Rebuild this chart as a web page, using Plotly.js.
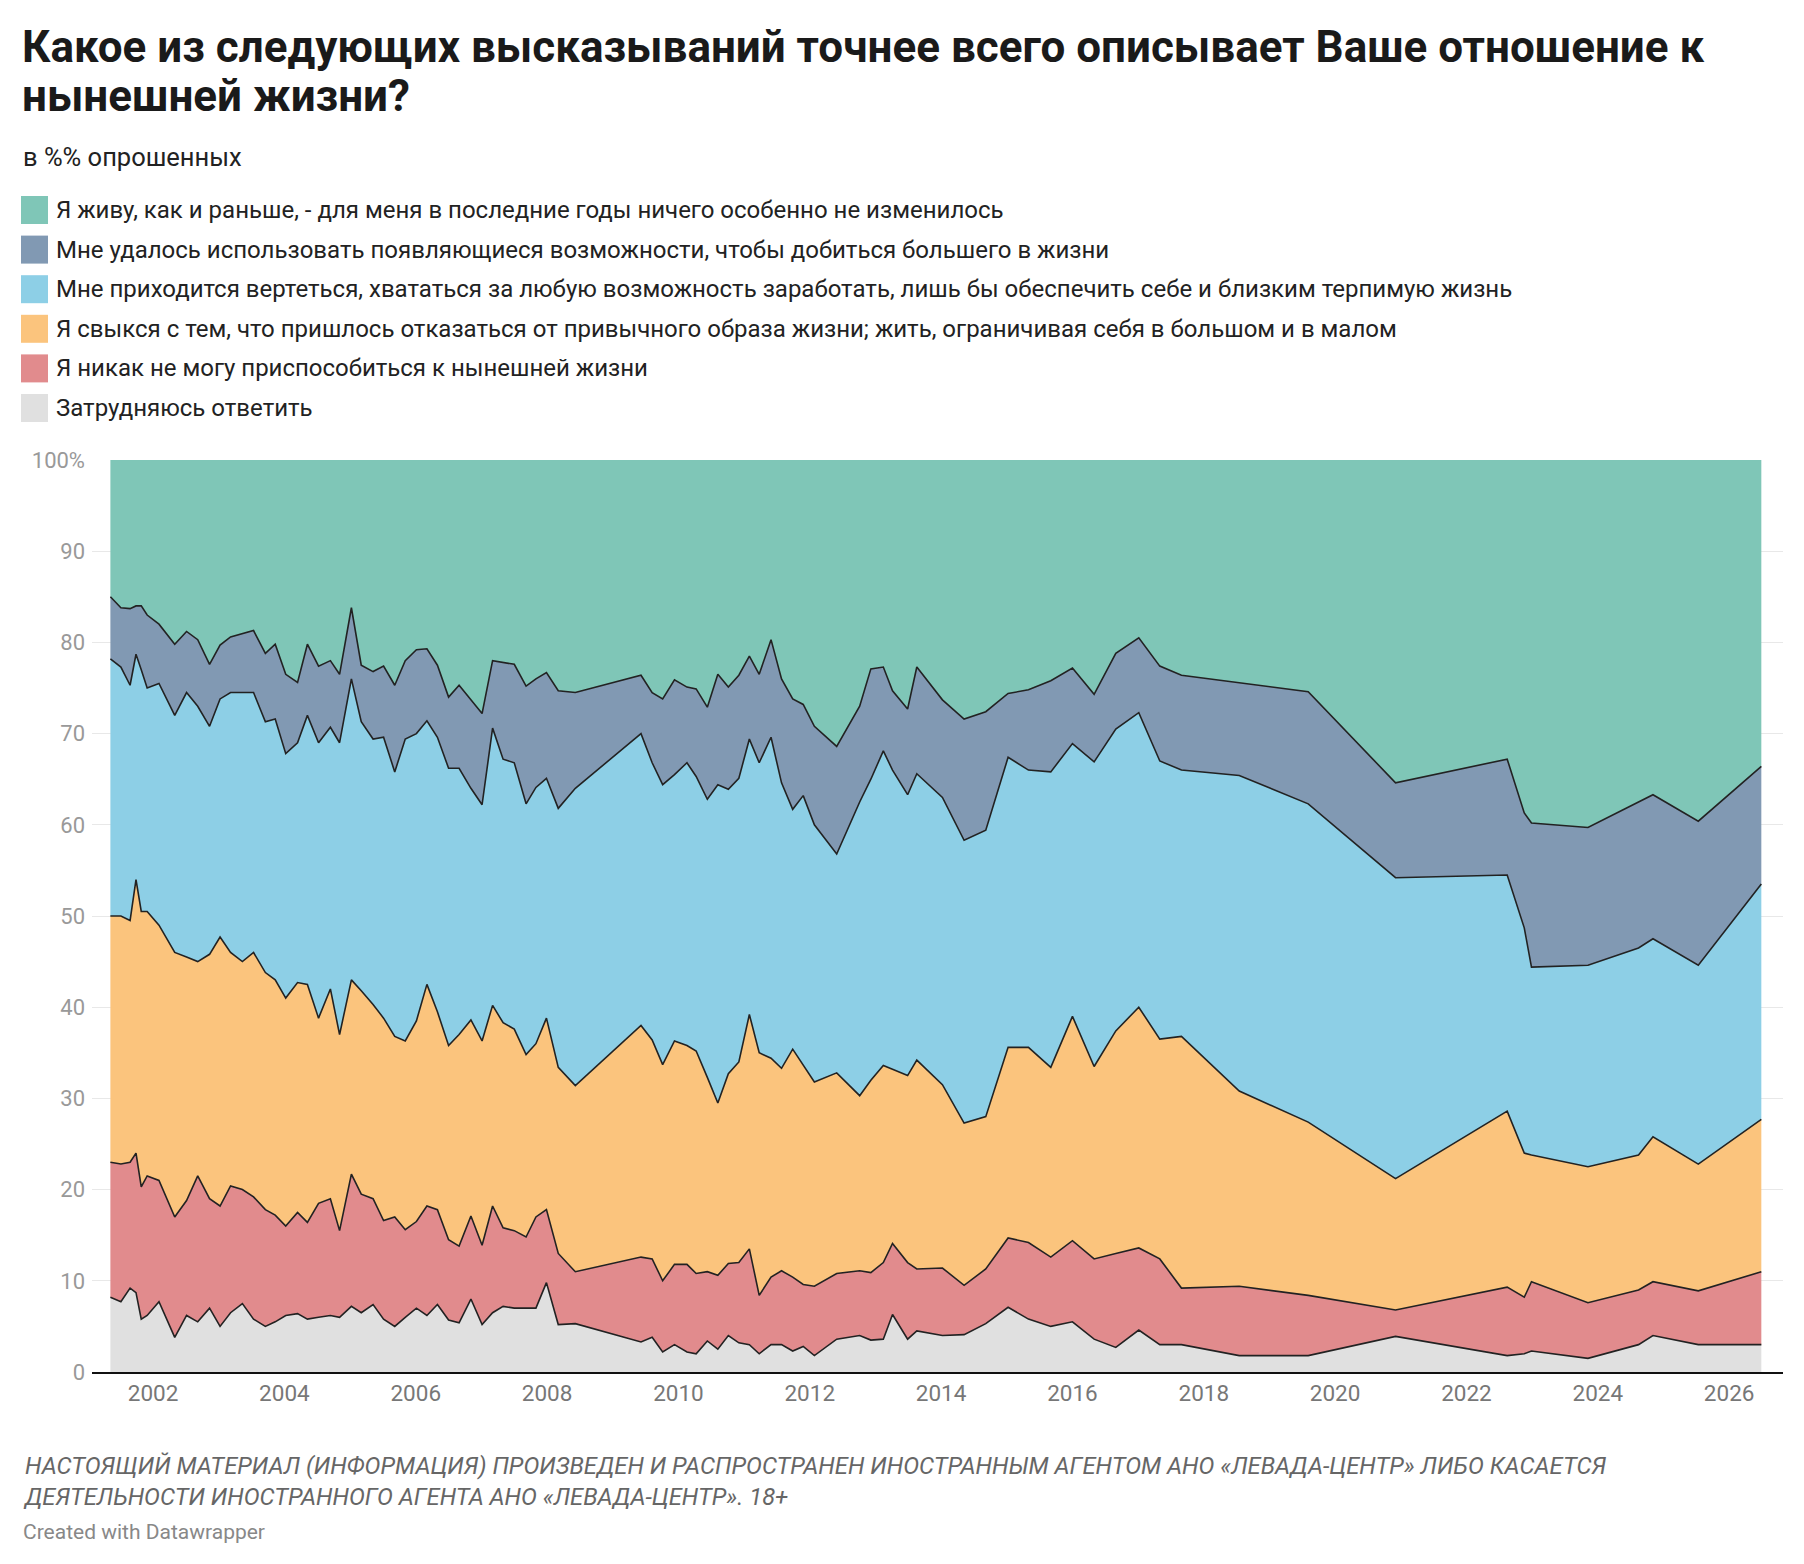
<!DOCTYPE html>
<html><head><meta charset="utf-8">
<script src="https://cdn.plot.ly/plotly-3.0.1.min.js"></script>
<style>body{margin:0;background:#fff}#c{width:1804px;height:1564px}</style>
</head><body><div id="c"></div>
<script>
// survey dates (decimal years)
const dates = [2001.35,2001.51,2001.65,2001.74,2001.82,2001.91,2002.09,2002.33,2002.51,2002.68,2002.86,2003.02,2003.18,2003.36,2003.53,2003.71,2003.86,2004.02,2004.2,2004.35,2004.52,2004.7,2004.84,2005.02,2005.17,2005.35,2005.51,2005.68,2005.84,2006.01,2006.17,2006.33,2006.5,2006.66,2006.84,2007.01,2007.17,2007.33,2007.5,2007.68,2007.83,2007.99,2008.17,2008.43,2009.43,2009.6,2009.76,2009.94,2010.13,2010.27,2010.44,2010.6,2010.76,2010.92,2011.08,2011.23,2011.41,2011.57,2011.74,2011.9,2012.07,2012.41,2012.76,2012.93,2013.12,2013.26,2013.49,2013.63,2014.02,2014.35,2014.68,2015.02,2015.33,2015.67,2016.0,2016.33,2016.66,2017.01,2017.33,2017.66,2018.54,2019.59,2020.92,2022.62,2022.88,2022.99,2023.85,2024.62,2024.84,2025.53,2026.49];
// cumulative upper boundaries of each stacked band (%)
const topHard = [8.2,7.7,9.2,8.7,5.8,6.2,7.7,3.8,6.2,5.5,7,5,6.5,7.5,5.8,5,5.5,6.2,6.4,5.8,6,6.2,6,7.2,6.5,7.4,5.8,5,6,7,6.2,7.4,5.7,5.4,8,5.2,6.5,7.2,7,7,7,9.8,5.2,5.3,3.3,3.8,2.2,3,2.2,2,3.4,2.5,4,3.2,3,2,3,3,2.3,2.8,1.8,3.6,4,3.5,3.6,6.3,3.6,4.5,4,4.1,5.3,7.1,5.8,5,5.5,3.6,2.7,4.6,3,3,1.8,1.8,3.9,1.8,2,2.3,1.5,3,4,3,3];
const topCannot = [23,22.8,23,24,20.3,21.5,21,17,18.8,21.5,19,18.2,20.4,20,19.2,17.8,17.2,16,17.5,16.4,18.5,19,15.5,21.7,19.5,19,16.6,17,15.6,16.5,18.2,17.8,14.5,13.8,17.1,13.9,18.2,15.8,15.5,14.8,17,17.8,13,11,12.6,12.4,10,11.8,11.8,10.8,11,10.6,11.9,12,13.5,8.4,10.4,11.1,10.4,9.6,9.4,10.8,11.1,10.9,12,14.1,12,11.3,11.4,9.5,11.3,14.7,14.2,12.6,14.4,12.4,13,13.6,12.4,9.2,9.4,8.4,6.8,9.3,8.2,9.9,7.6,9,9.9,8.9,11];
const topGaveUp = [50,50,49.5,54,50.5,50.5,49,46,45.5,45,45.8,47.7,46,45,46,43.8,43,41,42.7,42.5,38.8,42,37,43,41.8,40.3,38.8,36.8,36.3,38.5,42.5,39.5,35.8,37,38.6,36.3,40.2,38.3,37.6,34.8,36,38.8,33.4,31.4,38,36.4,33.7,36.3,35.8,35.2,32.3,29.5,32.7,34,39.2,35,34.4,33.3,35.4,33.6,31.8,32.8,30.3,32,33.6,33.2,32.5,34.2,31.5,27.3,28,35.6,35.6,33.4,39,33.5,37.4,40,36.5,36.8,30.8,27.4,21.2,28.6,24,23.8,22.5,23.8,25.8,22.8,27.7];
const topHustle = [78.2,77.3,75.3,78.7,77,75,75.5,72,74.5,73,70.8,73.8,74.5,74.5,74.5,71.3,71.6,67.8,69,72,69,70.7,69,76,71.3,69.4,69.6,65.8,69.4,70,71.4,69.6,66.2,66.2,64,62.2,70.6,67.2,66.8,62.3,64.1,65.1,61.8,64,70,66.8,64.4,65.5,66.8,65.3,62.8,64.4,63.9,65.1,69.4,66.8,69.6,64.6,61.7,63.2,60,56.8,62.5,65,68.1,66,63.3,65.6,63,58.3,59.4,67.4,66,65.8,68.9,66.9,70.5,72.3,67,66,65.4,62.3,54.2,54.5,48.7,44.4,44.6,46.5,47.5,44.6,53.5];
const topSucceeded = [85,83.8,83.7,84,84,83,82,79.8,81.2,80.3,77.6,79.7,80.6,81,81.3,78.8,79.8,76.5,75.6,79.8,77.4,78,76.5,83.8,77.5,76.8,77.4,75.3,78,79.2,79.3,77.5,74,75.3,73.7,72.2,78,77.8,77.6,75.2,76,76.7,74.7,74.5,76.4,74.5,73.8,75.9,75.1,74.9,72.9,76.5,75.1,76.4,78.5,76.5,80.3,76,73.8,73.2,70.8,68.6,73,77.1,77.3,74.7,72.7,77.3,73.7,71.6,72.4,74.4,74.8,75.8,77.2,74.3,78.8,80.5,77.4,76.4,75.6,74.6,64.6,67.2,61.3,60.2,59.7,62.5,63.3,60.4,66.4];
const TOTAL = 100;

const labels = [
 "Я живу, как и раньше, - для меня в последние годы ничего особенно не изменилось",
 "Мне удалось использовать появляющиеся возможности, чтобы добиться большего в жизни",
 "Мне приходится вертеться, хвататься за любую возможность заработать, лишь бы обеспечить себе и близким терпимую жизнь",
 "Я свыкся с тем, что пришлось отказаться от привычного образа жизни; жить, ограничивая себя в большом и в малом",
 "Я никак не могу приспособиться к нынешней жизни",
 "Затрудняюсь ответить"];
const colors = ["#7fc6b7","#8199b3","#8dcfe6","#fbc47d","#e18b8d","#e0e0e0"];
const yTicks = [0,10,20,30,40,50,60,70,80,90,100];
const yTickText = ["0","10","20","30","40","50","60","70","80","90","100%"];

const bands = [topHard, topCannot, topGaveUp, topHustle, topSucceeded, dates.map(()=>TOTAL)];
const traces = bands.map((y,i)=>({
  x: dates, y: y, type:'scatter', mode:'lines',
  fill: i===0?'tozeroy':'tonexty',
  fillcolor: colors[5-i],
  line:{color: i===5?'rgba(0,0,0,0)':'#222', width: i===5?0:1.6},
  showlegend:false, hoverinfo:'skip'
}));

const W=1804,H=1564,ML=92,MR=21,MT=460,MB=192;
const px=x=>(x-ML)/(W-ML-MR), py=y=>(H-MB-y)/(H-MT-MB);
const shapes=[], ann=[];
ann.push({text:"Какое из следующих высказываний точнее всего описывает Ваше отношение к",
  xref:'paper',yref:'paper',x:px(20),y:py(47),xanchor:'left',yanchor:'middle',showarrow:false,
  font:{family:'Roboto',size:44,color:'#1a1a1a',weight:700}});
ann.push({text:"нынешней жизни?",
  xref:'paper',yref:'paper',x:px(20),y:py(96),xanchor:'left',yanchor:'middle',showarrow:false,
  font:{family:'Roboto',size:44,color:'#1a1a1a',weight:700}});
ann.push({text:"в %% опрошенных",xref:'paper',yref:'paper',x:px(21),y:py(157),xanchor:'left',yanchor:'middle',showarrow:false,
  font:{family:'Roboto',size:25.5,color:'#222'}});
labels.forEach((t,i)=>{
  const yc = 210 + i*39.6;
  shapes.push({type:'rect',xref:'paper',yref:'paper',x0:px(21),x1:px(48),y0:py(yc-14),y1:py(yc+14),fillcolor:colors[i],line:{width:0}});
  ann.push({text:t,xref:'paper',yref:'paper',x:px(54),y:py(yc),xanchor:'left',yanchor:'middle',showarrow:false,
    font:{family:'Roboto',size:24,color:'#222'}});
});
ann.push({text:"<i>НАСТОЯЩИЙ МАТЕРИАЛ (ИНФОРМАЦИЯ) ПРОИЗВЕДЕН И РАСПРОСТРАНЕН ИНОСТРАННЫМ АГЕНТОМ АНО «ЛЕВАДА-ЦЕНТР» ЛИБО КАСАЕТСЯ<br>ДЕЯТЕЛЬНОСТИ ИНОСТРАННОГО АГЕНТА АНО «ЛЕВАДА-ЦЕНТР». 18+</i>",
  xref:'paper',yref:'paper',x:px(21),y:py(1450),xanchor:'left',yanchor:'top',align:'left',showarrow:false,
  font:{family:'Roboto',size:23.8,color:'#666'}});
ann.push({text:"Created with Datawrapper",xref:'paper',yref:'paper',x:px(21),y:py(1532),xanchor:'left',yanchor:'middle',showarrow:false,
  font:{family:'Roboto',size:21,color:'#888'}});

Plotly.newPlot('c', traces, {
  width:W,height:H,margin:{l:ML,r:MR,t:MT,b:MB},
  paper_bgcolor:'#fff',plot_bgcolor:'#fff',
  font:{family:'Roboto'},
  xaxis:{range:[2001.07,2026.82],tickvals:[2002,2004,2006,2008,2010,2012,2014,2016,2018,2020,2022,2024,2026],
    showgrid:true,gridcolor:'rgba(0,0,0,0.09)',layer:'above traces',zeroline:false,
    showline:true,linecolor:'#111',linewidth:2,ticks:'',tickfont:{size:22.5,color:'#777'}},
  yaxis:{range:[0,100],tickvals:yTicks,ticktext:yTickText,showgrid:true,gridcolor:'rgba(0,0,0,0.09)',
    layer:'above traces',zeroline:false,ticks:'',tickfont:{size:22,color:'#999'},ticklabelstandoff:6},
  shapes:shapes,annotations:ann
},{staticPlot:true});
</script></body></html>
